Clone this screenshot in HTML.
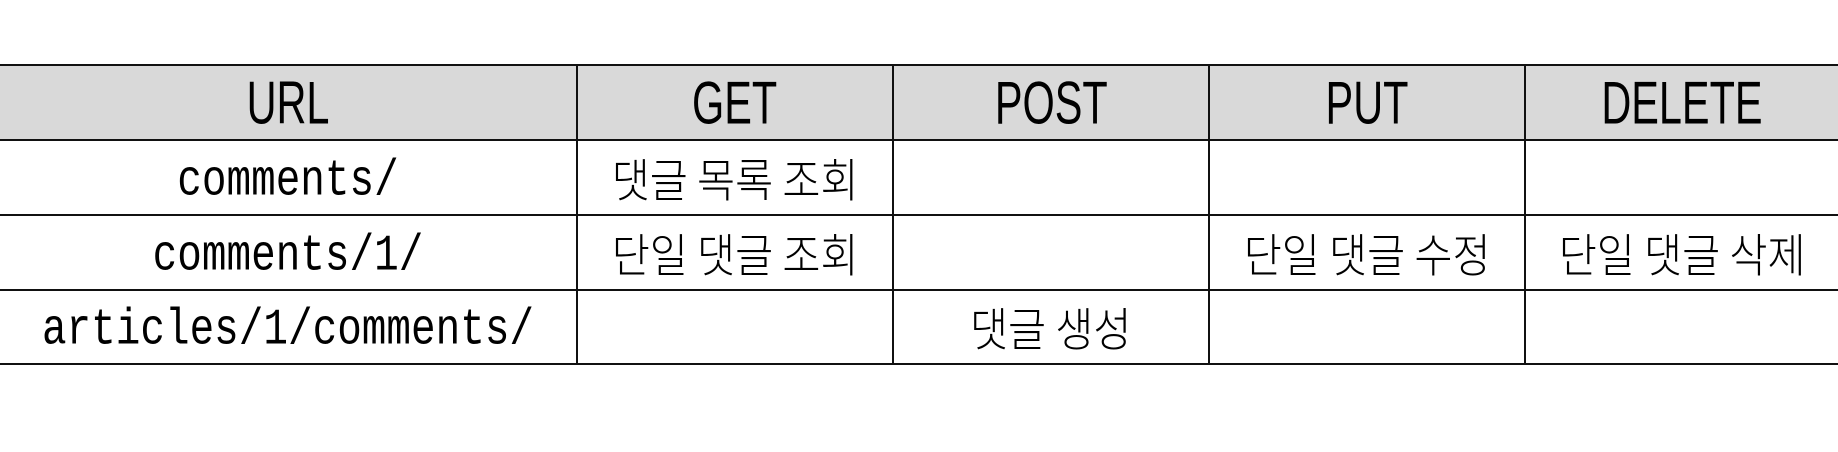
<!DOCTYPE html>
<html><head><meta charset="utf-8"><style>
body{margin:0;width:1838px;height:452px;background:#fff;position:relative;overflow:hidden;font-family:"Liberation Sans","Noto Sans CJK KR",sans-serif;}
.c{position:absolute;display:flex;align-items:center;justify-content:center;box-sizing:border-box;}
.hl{position:absolute;left:0;width:1838px;height:2px;background:#111;}
.vl{position:absolute;top:64px;height:301px;width:2px;background:#111;}
.h span{display:inline-block;font-size:56px;transform:scaleX(0.74) scaleY(1.08);color:#000;}
.m span{display:inline-block;font-family:"Liberation Mono",monospace;font-size:41px;transform:translateY(4px) scaleY(1.25);color:#000;}
.k span{display:inline-block;font-family:"Noto Sans CJK KR","NanumGothic",sans-serif;font-size:46px;font-weight:300;transform:scaleX(0.9);color:#000;}
</style></head><body>
<div>
<div style="position:absolute;left:0;top:65px;width:1838px;height:75px;background:#d9d9d9"></div>
<div class="hl" style="top:64px"></div>
<div class="hl" style="top:139px"></div>
<div class="hl" style="top:214px"></div>
<div class="hl" style="top:289px"></div>
<div class="hl" style="top:363px"></div>
<div class="vl" style="left:576px"></div>
<div class="vl" style="left:892px"></div>
<div class="vl" style="left:1208px"></div>
<div class="vl" style="left:1524px"></div>

<div class="c h" style="left:0;top:66px;width:576px;height:73px"><span>URL</span></div>
<div class="c h" style="left:578px;top:66px;width:314px;height:73px"><span>GET</span></div>
<div class="c h" style="left:894px;top:66px;width:314px;height:73px"><span>POST</span></div>
<div class="c h" style="left:1210px;top:66px;width:314px;height:73px"><span>PUT</span></div>
<div class="c h" style="left:1526px;top:66px;width:312px;height:73px"><span>DELETE</span></div>

<div class="c m" style="left:0;top:141px;width:576px;height:73px"><span>comments/</span></div>
<div class="c k" style="left:578px;top:141px;width:314px;height:73px"><span>댓글 목록 조회</span></div>

<div class="c m" style="left:0;top:216px;width:576px;height:73px"><span>comments/1/</span></div>
<div class="c k" style="left:578px;top:216px;width:314px;height:73px"><span>단일 댓글 조회</span></div>
<div class="c k" style="left:1210px;top:216px;width:314px;height:73px"><span>단일 댓글 수정</span></div>
<div class="c k" style="left:1526px;top:216px;width:312px;height:73px"><span>단일 댓글 삭제</span></div>

<div class="c m" style="left:0;top:291px;width:576px;height:72px"><span>articles/1/comments/</span></div>
<div class="c k" style="left:894px;top:291px;width:314px;height:72px"><span>댓글 생성</span></div>
</div>
</body></html>
